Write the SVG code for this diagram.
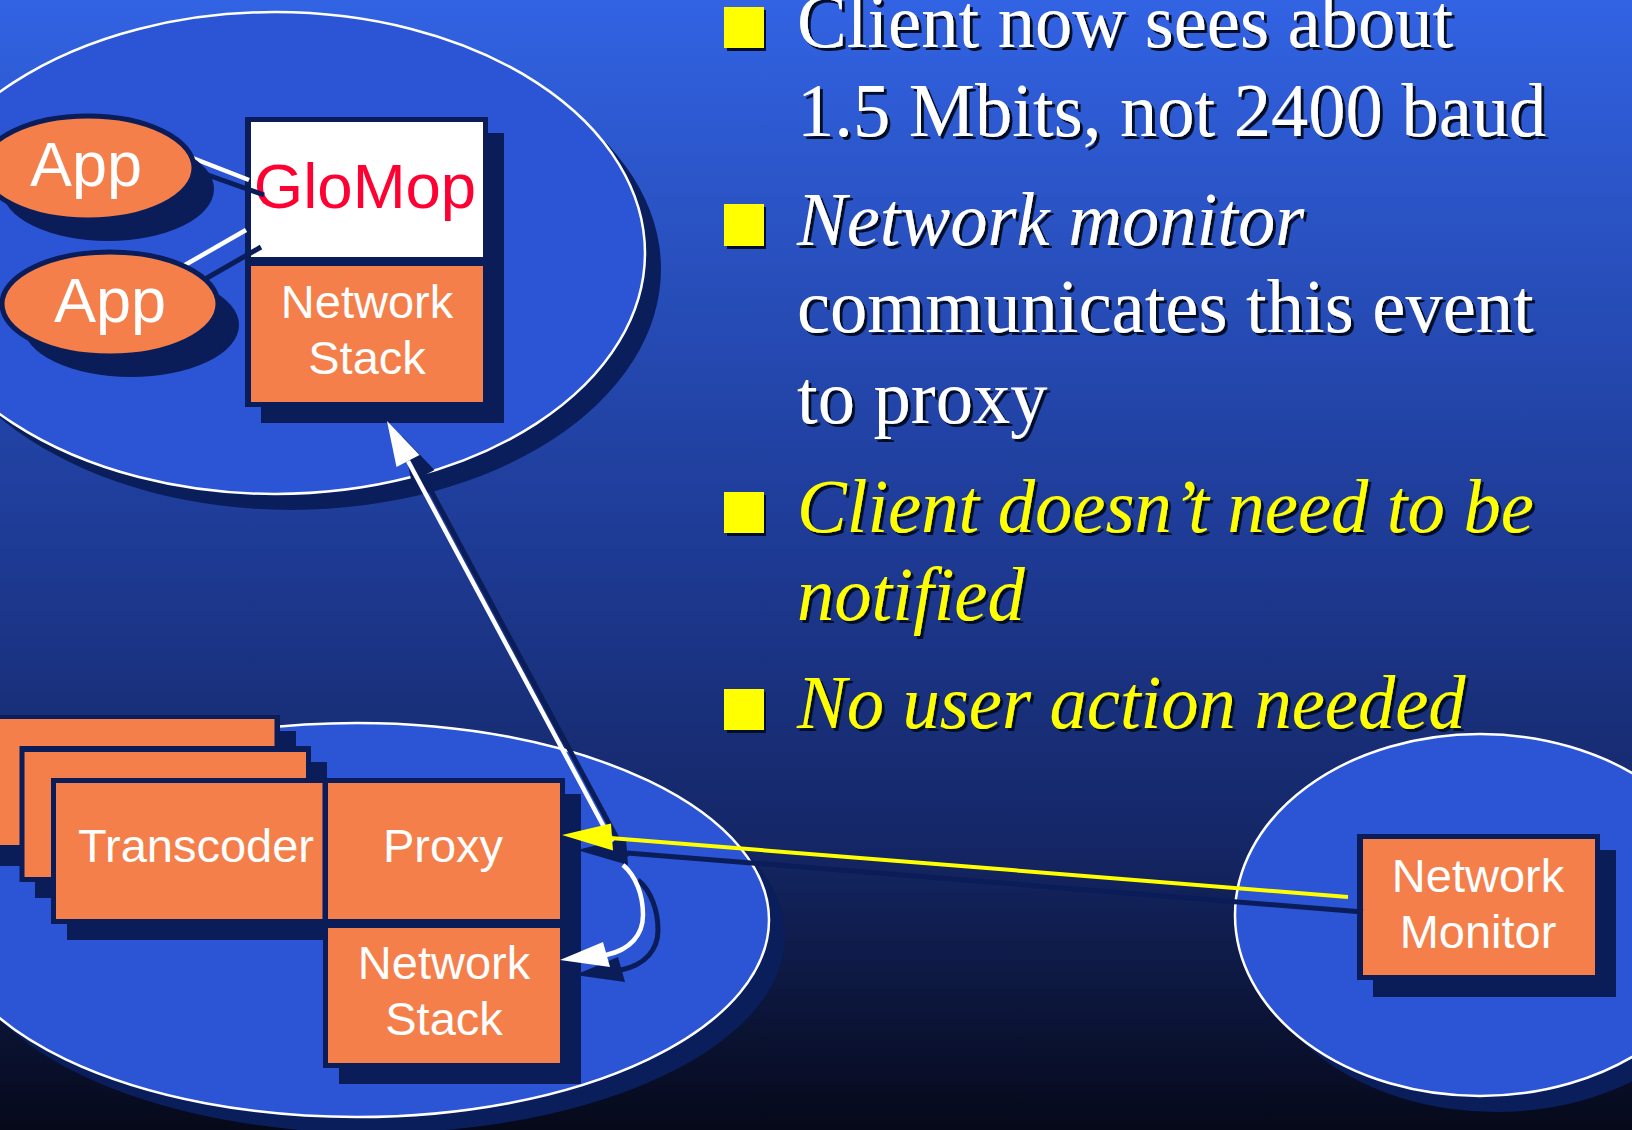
<svg xmlns="http://www.w3.org/2000/svg" width="1632" height="1130" viewBox="0 0 1632 1130">
  <defs>
    <linearGradient id="bg" x1="0" y1="0" x2="0" y2="1">
      <stop offset="0" stop-color="#3263e3"/>
      <stop offset="0.45" stop-color="#1f3d9a"/>
      <stop offset="0.75" stop-color="#142665"/>
      <stop offset="1" stop-color="#060919"/>
    </linearGradient>
    <filter id="txtShadow" x="-5%" y="-20%" width="110%" height="140%">
      <feDropShadow dx="3" dy="3" stdDeviation="0" flood-color="#030a28" flood-opacity="1"/>
    </filter>
  </defs>
  <style>
    .host { fill: #2b55d4; stroke: #ffffff; stroke-width: 2.5; }
    .hostShadow { fill: #0a1e5c; }
    .dark { fill: #0a1d58; }
    .orange { fill: #f47f4b; }
    .white { fill: #ffffff; }
    .app { fill: #f47f4b; stroke: #0a1d58; stroke-width: 5; }
    .lbl { font-family: "Liberation Sans", Arial, sans-serif; font-size: 47px; fill: #ffffff; text-anchor: middle; }
    .appLbl { font-family: "Liberation Sans", Arial, sans-serif; font-size: 63px; fill: #ffffff; text-anchor: middle; }
    .glomop { font-family: "Liberation Sans", Arial, sans-serif; font-size: 63.5px; fill: #ff0033; text-anchor: middle; }
    .bullet { fill: #ffff00; filter: url(#txtShadow); }
    .txt { font-family: "Liberation Serif", "Times New Roman", serif; font-size: 77px; filter: url(#txtShadow); }
    .w { fill: #ffffff; }
    .y { fill: #ffff00; }
    .it { font-style: italic; }
    .shLine { stroke: #0a1d58; stroke-width: 5; fill: none; }
    .shHead { fill: #0a1d58; }
    .wLine { stroke: #ffffff; stroke-width: 4.5; fill: none; }
    .wHead { fill: #ffffff; }
    .yLine { stroke: #ffff00; stroke-width: 4; fill: none; }
    .yHead { fill: #ffff00; }
  </style>

  <rect x="0" y="0" width="1632" height="1130" fill="url(#bg)"/>

  <!-- host machines -->
  <g id="client-host">
    <ellipse class="hostShadow" cx="291" cy="269" rx="370" ry="241"/>
    <ellipse class="host" cx="275" cy="253" rx="370" ry="241"/>
  </g>
  <g id="proxy-host">
    <ellipse class="hostShadow" cx="373" cy="936" rx="412" ry="197"/>
    <ellipse class="host" cx="357" cy="920" rx="412" ry="197"/>
  </g>
  <g id="monitor-host">
    <ellipse class="hostShadow" cx="1496" cy="931" rx="245" ry="181"/>
    <ellipse class="host" cx="1480" cy="915" rx="245" ry="181"/>
  </g>

  <!-- client side stack -->
  <g id="client-glomop">
    <rect class="dark" x="261" y="133" width="243" height="290"/>
    <rect class="dark" x="245" y="117" width="243" height="145"/>
    <rect class="white" x="251" y="122" width="232" height="135"/>
    <text class="glomop" x="365" y="208">GloMop</text>
  </g>
  <g id="client-netstack">
    <rect class="dark" x="245" y="261" width="243" height="146"/>
    <rect class="orange" x="251" y="266" width="232" height="136"/>
    <text class="lbl" x="367" y="318">Network</text>
    <text class="lbl" x="367" y="374">Stack</text>
  </g>

  <!-- proxy side -->
  <g id="transcoders">
    <rect class="dark" x="-10" y="731" width="306" height="135"/>
    <rect class="dark" x="-10" y="715" width="290" height="135"/>
    <rect class="orange" x="-10" y="719" width="284.5" height="126"/>
    <rect class="dark" x="35" y="762" width="292" height="136"/>
    <rect class="dark" x="19.5" y="746" width="291.5" height="136"/>
    <rect class="orange" x="24.5" y="752" width="281.5" height="125"/>
    <rect class="dark" x="67" y="794" width="277" height="146"/>
    <rect class="dark" x="51" y="778" width="277" height="146"/>
    <rect class="orange" x="56" y="783" width="266.5" height="136"/>
    <text class="lbl" x="196" y="862">Transcoder</text>
  </g>
  <g id="proxy">
    <rect class="dark" x="339" y="794" width="242" height="146"/>
    <rect class="dark" x="323" y="778" width="242" height="146"/>
    <rect class="orange" x="328" y="783" width="232" height="136"/>
    <text class="lbl" x="443" y="862">Proxy</text>
  </g>
  <g id="proxy-netstack">
    <rect class="dark" x="339" y="938" width="242" height="146"/>
    <rect class="dark" x="323" y="922" width="242" height="146"/>
    <rect class="orange" x="328" y="928" width="232" height="135"/>
    <text class="lbl" x="444" y="979">Network</text>
    <text class="lbl" x="444" y="1035">Stack</text>
  </g>

  <!-- monitor -->
  <g id="network-monitor">
    <rect class="dark" x="1373" y="850" width="243" height="147"/>
    <rect class="dark" x="1357" y="834" width="243" height="146"/>
    <rect class="orange" x="1363" y="839" width="232" height="136"/>
    <text class="lbl" x="1478" y="892">Network</text>
    <text class="lbl" x="1478" y="948">Monitor</text>
  </g>

  <!-- connectors: shadows first, then the lines themselves -->
  <g id="connectors">
    <!-- app to GloMop links -->
    <line class="shLine" x1="205" y1="174" x2="264" y2="195"/>
    <line class="shLine" x1="200" y1="282" x2="261" y2="247"/>
    <line class="wLine" x1="190" y1="157" x2="249" y2="180"/>
    <line class="wLine" x1="178" y1="269" x2="246" y2="230"/>

    <!-- proxy up to client network stack -->
    <line class="shLine" x1="627" y1="857" x2="423" y2="476"/>
    <polygon class="shHead" points="402,436 434.5,470 411.5,482"/>
    <!-- proxy down to its network stack -->
    <path class="shLine" d="M 638 880 C 651 891, 658 910, 658 930 C 658 950, 645 965, 621 970"/>
    <polygon class="shHead" points="575,975 618,957 625,982"/>
    <!-- monitor to proxy -->
    <line class="shLine" x1="1363" y1="912" x2="627" y2="853"/>
    <polygon class="shHead" points="577,850 626,838 628,865"/>

    <line class="wLine" x1="612" y1="842" x2="408" y2="461"/>
    <polygon class="wHead" points="387,421 419.5,455 396.5,467"/>
    <path class="wLine" d="M 623 865 C 636 876, 643 895, 643 915 C 643 935, 630 950, 606 955"/>
    <polygon class="wHead" points="560,960 603,942 610,967"/>
    <line class="yLine" x1="1348" y1="897" x2="610" y2="838"/>
    <polygon class="yHead" points="562,835 611,823.5 613,850.5"/>
  </g>

  <!-- applications -->
  <g id="app-1">
    <ellipse class="dark" cx="108" cy="189" rx="106" ry="52"/>
    <ellipse class="app" cx="88" cy="168" rx="106" ry="52"/>
    <text class="appLbl" x="86" y="186">App</text>
  </g>
  <g id="app-2">
    <ellipse class="dark" cx="131" cy="325" rx="108" ry="52"/>
    <ellipse class="app" cx="110" cy="304" rx="108" ry="52"/>
    <text class="appLbl" x="110" y="322">App</text>
  </g>

  <!-- bullet points -->
  <g id="bullets">
    <rect class="bullet" x="724" y="7" width="40" height="41"/>
    <rect class="bullet" x="724" y="204" width="40" height="42"/>
    <rect class="bullet" x="724" y="492" width="40" height="41"/>
    <rect class="bullet" x="724" y="689" width="40" height="41"/>
    <!-- slightly condensed serif body text -->
    <g transform="matrix(0.968 0 0 1 25.5 0)">
      <text class="txt w" x="797" y="47">Client now sees about</text>
      <text class="txt w" x="797" y="136">1.5 Mbits, not 2400 baud</text>
      <text class="txt w it" x="797" y="245">Network monitor</text>
      <text class="txt w" x="797" y="332">communicates this event</text>
      <text class="txt w" x="797" y="423">to proxy</text>
      <text class="txt y it" x="797" y="532">Client doesn’t need to be</text>
      <text class="txt y it" x="797" y="620">notified</text>
      <text class="txt y it" x="797" y="728">No user action needed</text>
    </g>
  </g>
</svg>
